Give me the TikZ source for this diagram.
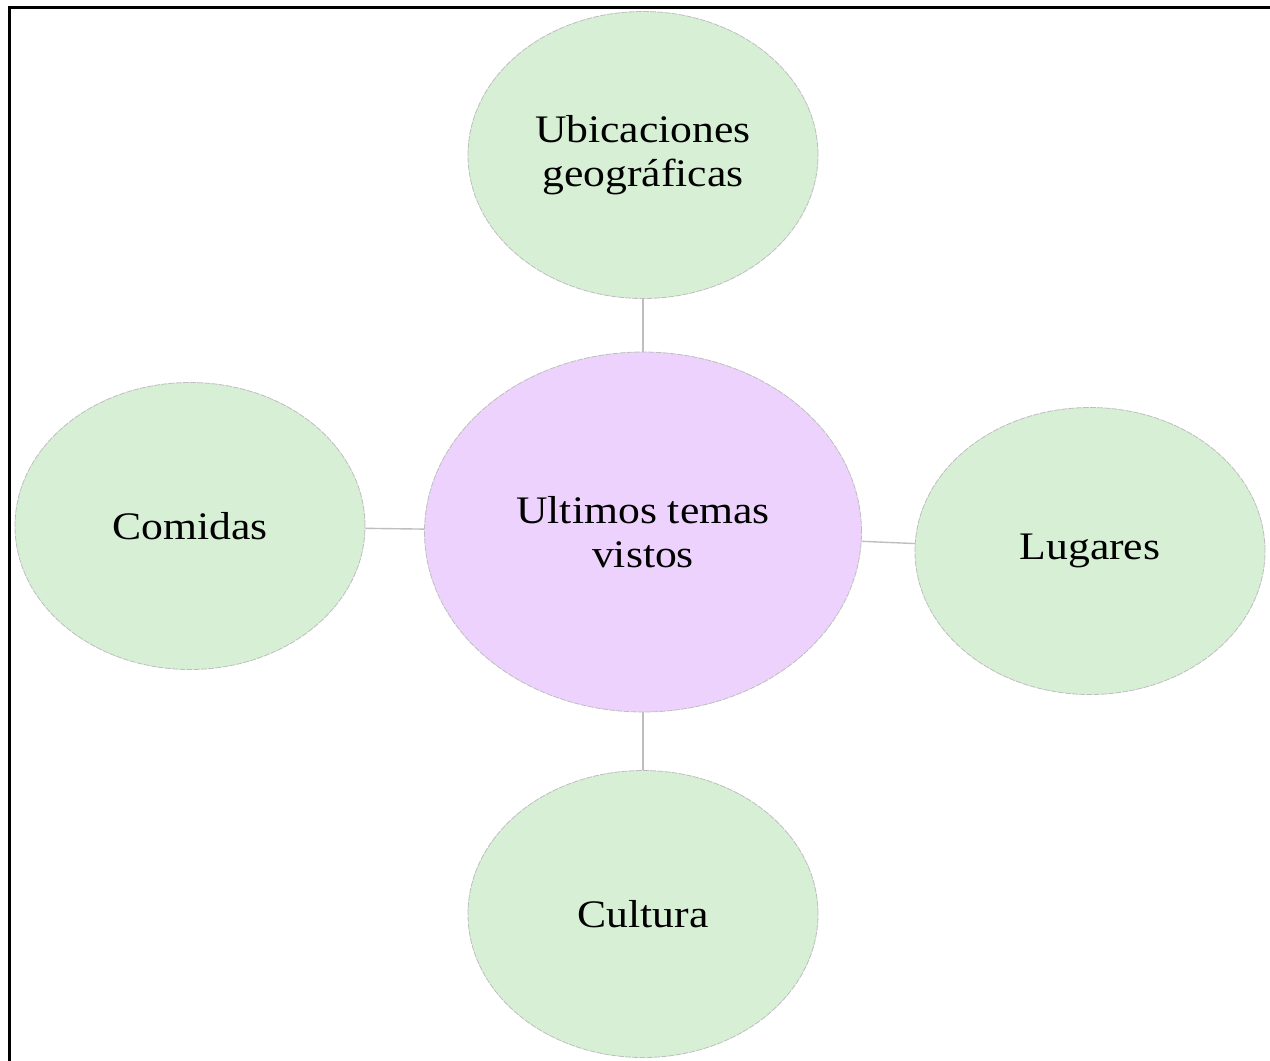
\documentclass[tikz,border=0pt]{standalone}
\usepackage{fontspec}
\setmainfont{Liberation Serif}[FakeStretch=1.12]
\usepackage{xcolor}
\usetikzlibrary{shapes.geometric}
\definecolor{bubblegreen}{RGB}{214,239,213}
\definecolor{bubblepurple}{RGB}{236,210,252}
\definecolor{edgegray}{RGB}{190,190,190}
\begin{document}
\begin{tikzpicture}[x=0.5pt,y=-0.5pt,
    bubble/.style={ellipse,draw=edgegray,line width=0.4pt,dash pattern=on 3pt off 0.6pt,
      fill=bubblegreen,minimum width=175pt,minimum height=143.5pt,inner sep=0pt,
      align=center,font=\fontsize{19.5}{22}\selectfont},
    link/.style={draw=edgegray,line width=0.7pt}]
        \useasboundingbox (0,0) rectangle (1270,1061);
        % frame
        \draw[line width=1.5pt] (9,1075) -- (9,7) -- (1285,7);
        % topic bubbles
        \node[bubble,fill=bubblepurple,minimum width=218.5pt,minimum height=180pt] (temas) at (643,532) {Ultimos temas\\vistos};
        \node[bubble] (ubic) at (643,155) {Ubicaciones\\geográficas};
        \node[bubble] (comidas) at (190,526) {Comidas};
        \node[bubble] (lugares) at (1090,551) {Lugares};
        \node[bubble] (cultura) at (643,914) {Cultura};
        \draw[link] (ubic) -- (temas);
        \draw[link] (comidas) -- (temas);
        \draw[link] (lugares) -- (temas);
        \draw[link] (cultura) -- (temas);
    \end{tikzpicture}
\end{document}
